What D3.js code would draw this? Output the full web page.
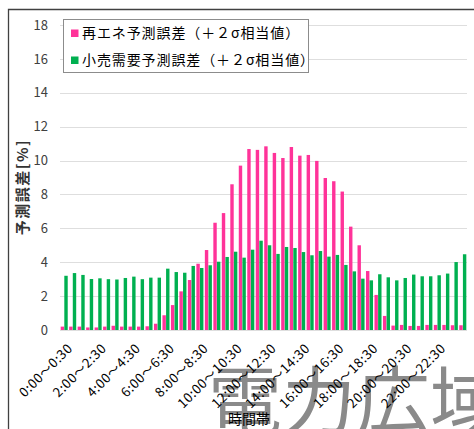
<!DOCTYPE html>
<html><head><meta charset="utf-8">
<script src="https://cdn.jsdelivr.net/npm/d3@7"></script>
<style>
html,body{margin:0;padding:0;background:#fff;}
svg{display:block;font-family:"Noto Sans CJK JP","Noto Sans",sans-serif;}
</style></head>
<body>
<svg id="chart" width="474" height="429"></svg>
<script>
// ---- data ----
const hours = d3.range(48).map(i => i);
const slotLabels = hours.map(i => {
  const h = Math.floor(i / 2), m = i % 2 === 0 ? "00" : "30";
  const h2 = i % 2 === 0 ? h : h + 1, m2 = i % 2 === 0 ? "30" : "00";
  return `${h}:${m}～${h2}:${m2}`;
});
const tickSlots = [0,4,8,12,16,20,24,28,32,36,40,44];
const renewable = [0.20,0.20,0.20,0.15,0.15,0.20,0.25,0.20,0.20,0.20,0.22,0.37,
  0.87,1.47,2.28,2.95,3.91,4.72,6.33,6.90,8.60,9.70,10.68,10.63,
  10.84,10.45,10.15,10.80,10.29,10.33,9.98,8.97,8.78,8.17,6.10,5.00,
  3.48,2.07,0.83,0.26,0.30,0.24,0.24,0.30,0.30,0.30,0.28,0.28];
const retail = [3.20,3.36,3.25,3.01,3.05,3.00,2.98,3.07,3.15,3.00,3.09,3.09,
  3.62,3.42,3.38,3.78,3.66,3.82,4.03,4.31,4.62,4.27,4.74,5.27,
  5.00,4.49,4.90,4.84,4.60,4.41,4.66,4.33,4.43,3.84,3.46,3.03,
  2.93,3.29,3.11,2.93,3.07,3.27,3.17,3.17,3.23,3.33,4.01,4.47];
const seriesNames = ["再エネ予測誤差（＋２σ相当値）","小売需要予測誤差（＋２σ相当値）"];
const seriesKeys = ["re","rt"];
const seriesColors = ["#ff3399","#00b050"];
const yTicks = [0,2,4,6,8,10,12,14,16,18];

// ---- layout ----
const svg = d3.select("#chart");
const L = 60, R = 467, T = 25, B = 330;
const x = d3.scaleBand().domain(hours).range([L, R]).paddingInner(0.17).paddingOuter(0.08);
const xs = d3.scaleBand().domain(seriesKeys).range([0, x.bandwidth()]).paddingInner(0.06);
const y = d3.scaleLinear().domain([0, 18]).range([B, T]);
const color = d3.scaleOrdinal().domain(seriesKeys).range(seriesColors);

// watermark (behind)
svg.append("text").attr("x", 208).attr("y", 428)
  .attr("font-size", 74).attr("fill", "#8a8a8a")
  .attr("font-family", "Noto Sans CJK JP")
  .text("電力広域");

// frame
svg.append("path").attr("d", "M8.5,440V9.5H480").attr("fill", "none")
  .attr("stroke", "#404040").attr("stroke-width", 1.3);

// grid
svg.append("g").selectAll("line").data(yTicks).join("line")
  .attr("x1", L).attr("x2", R)
  .attr("y1", d => Math.round(y(d)) + 0.5).attr("y2", d => Math.round(y(d)) + 0.5)
  .attr("stroke", "#dedede").attr("stroke-width", 1.2);

// y axis labels
const yAxis = d3.axisLeft(y).tickValues(yTicks).tickSize(0).tickPadding(0);
const gy = svg.append("g").attr("transform", `translate(48,0)`).call(yAxis);
gy.select(".domain").remove();
gy.selectAll("text").attr("font-size", 13).attr("fill", "#404040")
  .attr("font-family", "Noto Sans CJK JP");

// bars
const rows = hours.map(i => ({i, re: renewable[i], rt: retail[i]}));
const groups = svg.append("g").selectAll("g").data(rows).join("g")
  .attr("transform", d => `translate(${x(d.i)},0)`);
groups.selectAll("rect").data(d => seriesKeys.map(k => ({k, v: d[k]}))).join("rect")
  .attr("x", d => xs(d.k)).attr("width", xs.bandwidth())
  .attr("y", d => y(d.v)).attr("height", d => y(0) - y(d.v))
  .attr("fill", d => color(d.k));

// x labels
const xl = svg.append("g");
tickSlots.forEach(i => {
  const cx = x(i) + x.bandwidth() / 2;
  xl.append("text")
    .attr("transform", `translate(${cx + 6},${346}) rotate(-45)`)
    .attr("text-anchor", "end").attr("dy", "0.35em")
    .attr("font-size", 13).attr("letter-spacing", 0.6).attr("fill", "#000")
    .text(slotLabels[i]);
});

// axis titles
svg.append("text").attr("transform", "translate(23,187) rotate(-90)")
  .attr("text-anchor", "middle").attr("dy", "0.35em")
  .attr("font-size", 15).attr("font-weight", "bold").attr("fill", "#333")
  .attr("letter-spacing", 1.5)
  .text("予測誤差[%]");
svg.append("text").attr("x", 249).attr("y", 419).attr("dy", "0.35em")
  .attr("text-anchor", "middle").attr("font-size", 14).attr("fill", "#000")
  .text("時間帯");

// legend
const lg = svg.append("g");
lg.append("rect").attr("x", 63.5).attr("y", 19.5).attr("width", 245).attr("height", 53)
  .attr("fill", "#fff").attr("stroke", "#8c8c8c").attr("stroke-width", 1);
seriesKeys.forEach((k, j) => {
  const cy = 33 + j * 27;
  lg.append("rect").attr("x", 71).attr("y", cy - 3.5).attr("width", 7.5).attr("height", 7.5)
    .attr("fill", color(k));
  lg.append("text").attr("x", 82).attr("y", cy).attr("dy", "0.35em")
    .attr("font-size", 14).attr("letter-spacing", 0.9).attr("fill", "#000").text(seriesNames[j]);
});
</script>
</body></html>
